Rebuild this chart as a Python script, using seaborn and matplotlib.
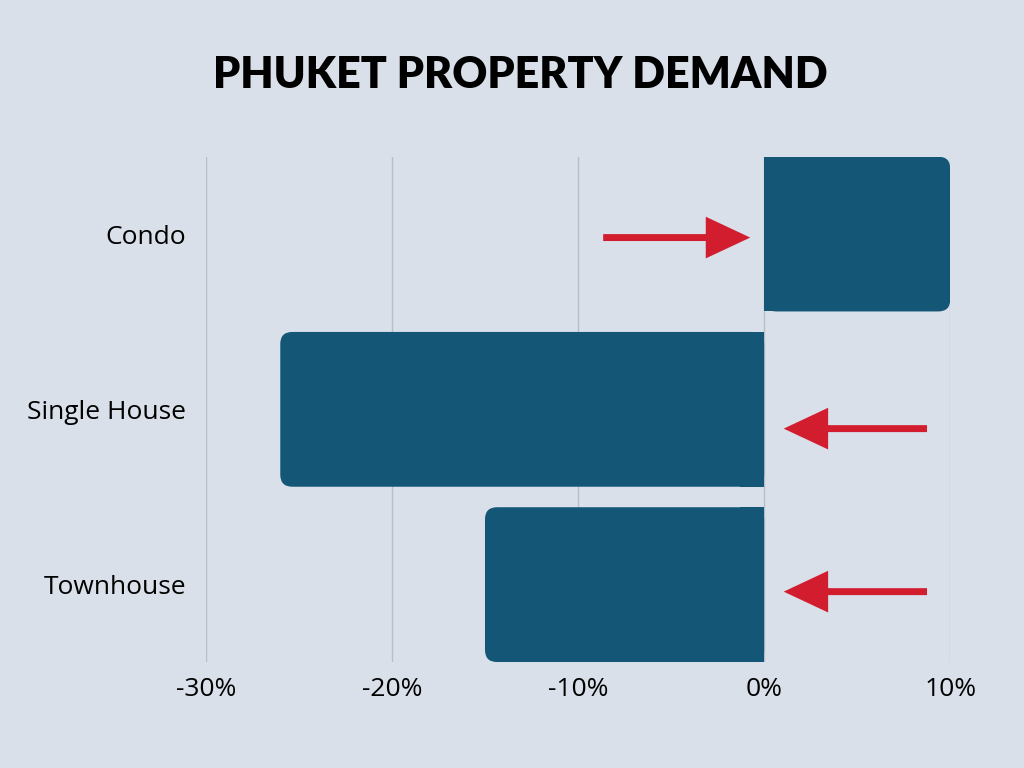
import numpy as np
import pandas as pd
import seaborn as sns
import matplotlib.pyplot as plt
from matplotlib.patches import FancyBboxPatch, FancyArrowPatch

categories = ["Condo", "Single House", "Townhouse"]
demand_change = [10, -26, -15]
x_ticks = [-30, -20, -10, 0, 10]
x_tick_labels = ["-30%", "-20%", "-10%", "0%", "10%"]

# arrow annotations: start x, end x, row position
arrow_start = [-8.8, 8.9, 8.9]
arrow_end = [-0.6, 0.9, 0.9]
arrow_row = [0.02, 1.11, 2.04]

bg = "#d9e0ea"
bar_color = "#135676"
red = "#d11d2e"

df = pd.DataFrame({"type": categories, "change": demand_change})

sns.set_theme(style="white")
plt.rcParams["font.family"] = ["Open Sans", "DejaVu Sans"]

fig = plt.figure(figsize=(10.24, 7.68), dpi=100, facecolor=bg)
ax = fig.add_axes([0.201, 0.138, 0.727, 0.658], facecolor=bg)

sns.barplot(data=df, x="change", y="type", orient="h", color=bar_color,
            width=0.883, saturation=1, ax=ax, zorder=2,
            edgecolor="none", linewidth=0)

ax.set_xlim(-30, 10)
ax.set_ylim(2.4415, -0.4415)

# rounded outer corners, square at zero
r = 0.65
aspect = (1 / 175.5) / (1 / 18.6)
for p in list(ax.patches):
    x0, y0 = p.get_x(), p.get_y()
    w, h = p.get_width(), p.get_height()
    left, right = min(x0, x0 + w), max(x0, x0 + w)
    rb = FancyBboxPatch((left, y0), right - left, h,
                        boxstyle=f"round,pad=0,rounding_size={r}",
                        mutation_aspect=aspect, facecolor=bar_color,
                        edgecolor="none", lw=0, zorder=3)
    ax.add_patch(rb)
    p.set_width(np.sign(w) * 2 * r)
    p.set_edgecolor("none")
    p.set_linewidth(0)
    p.set_zorder(2)

for xs, xe, yr in zip(arrow_start, arrow_end, arrow_row):
    ar = FancyArrowPatch((xs, yr), (xe, yr),
                         arrowstyle="simple,head_length=1.6,head_width=1.5,tail_width=0.25",
                         mutation_scale=20, color=red, lw=0, zorder=4)
    ax.add_patch(ar)

ax.set_xticks(x_ticks)
ax.set_xticklabels(x_tick_labels)
ax.grid(axis="x", color="#b9bec6", lw=1, zorder=0)
ax.set_axisbelow(True)
for s in ax.spines.values():
    s.set_visible(False)
ax.set_xlabel("")
ax.set_ylabel("")
ax.tick_params(axis="y", length=0, pad=14, labelsize=19, labelcolor="black")
ax.tick_params(axis="x", length=0, pad=11, labelsize=19, labelcolor="black")
for t in ax.get_xticklabels() + ax.get_yticklabels():
    t.set_fontweight("medium")

fig.text(0.508, 0.902, "PHUKET PROPERTY DEMAND", ha="center", va="center",
         fontsize=31, fontweight="heavy", color="black",
         family=["Lato", "DejaVu Sans"])

fig.savefig("out.png", dpi=100, facecolor=bg)
